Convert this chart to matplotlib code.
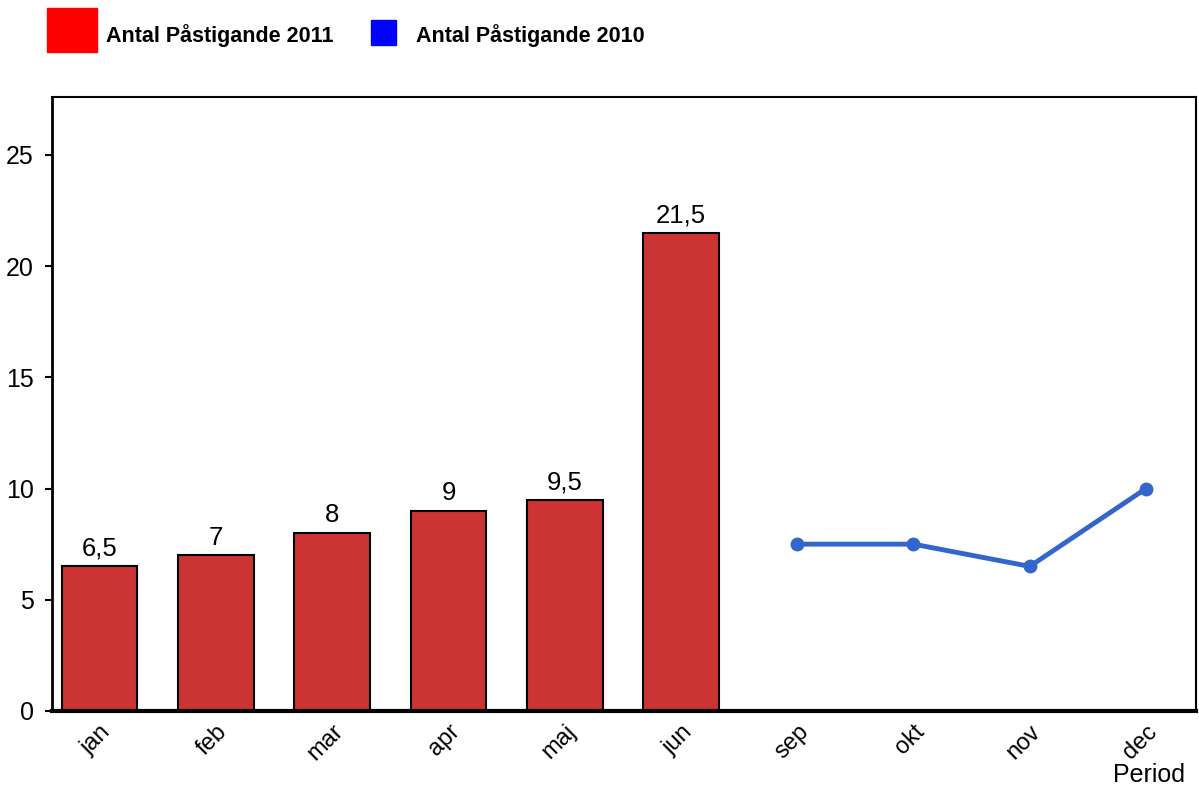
import matplotlib.pyplot as plt
import matplotlib.patches as mpatches
import matplotlib.transforms as mtransforms

plt.rcParams['font.family'] = ['Liberation Sans', 'DejaVu Sans']

months = ['jan', 'feb', 'mar', 'apr', 'maj', 'jun', 'sep', 'okt', 'nov', 'dec']
bar_months = ['jan', 'feb', 'mar', 'apr', 'maj', 'jun']
bar_values = [6.5, 7, 8, 9, 9.5, 21.5]
line_months = ['sep', 'okt', 'nov', 'dec']
line_values = [7.5, 7.5, 6.5, 10]
yticks = [0, 5, 10, 15, 20, 25]
legend_labels = ['Antal Påstigande 2011', 'Antal Påstigande 2010']

fig = plt.figure(figsize=(11.99, 7.87), dpi=100)
ax = fig.add_axes([0.0434, 0.0966, 0.9541, 0.7801])

bar_x = [months.index(m) for m in bar_months]
line_x = [months.index(m) for m in line_months]

ax.bar(bar_x, bar_values, width=0.65, color='#CC3333', edgecolor='black', linewidth=1.5, zorder=2)
for x, v in zip(bar_x, bar_values):
    ax.text(x, v + 0.25, ('%g' % v).replace('.', ','), ha='center', va='bottom', fontsize=18.5)

ax.plot(line_x, line_values, color='#3366CC', linewidth=3.5, marker='o', markersize=9, zorder=3)

ax.set_xlim(-0.41, 9.43)
ax.set_ylim(0, 27.6)
ax.set_yticks(yticks)
ax.set_yticklabels([str(t) for t in yticks], fontsize=18)
ax.set_xticks(range(len(months)))
ax.set_xticklabels(months, fontsize=17, rotation=45, ha='right', rotation_mode='anchor')
offset = mtransforms.ScaledTranslation(10 / 100, 0, fig.dpi_scale_trans)
for lbl in ax.get_xticklabels():
    lbl.set_transform(lbl.get_transform() + offset)
ax.tick_params(axis='x', length=0, pad=7)
ax.tick_params(axis='y', length=5, width=1.5, direction='out', pad=8)

for s in ax.spines.values():
    s.set_linewidth(1.5)
ax.spines['bottom'].set_linewidth(3)
ax.spines['left'].set_linewidth(2)

fig.text(0.988, 5 / 787, 'Period', ha='right', va='baseline', fontsize=18)

# legend drawn by hand
fig.patches.append(mpatches.Rectangle((47 / 1199, 1 - 52 / 787), 50 / 1199, 44 / 787,
                                      transform=fig.transFigure, color='#FF0000'))
fig.text(106 / 1199, 1 - 36 / 787, legend_labels[0], fontsize=15.5, fontweight='bold', va='center')
fig.patches.append(mpatches.Rectangle((371 / 1199, 1 - 45 / 787), 25 / 1199, 25 / 787,
                                      transform=fig.transFigure, color='#0000FF'))
fig.text(416 / 1199, 1 - 36 / 787, legend_labels[1], fontsize=15.5, fontweight='bold', va='center')

fig.savefig('out.png', dpi=100)
